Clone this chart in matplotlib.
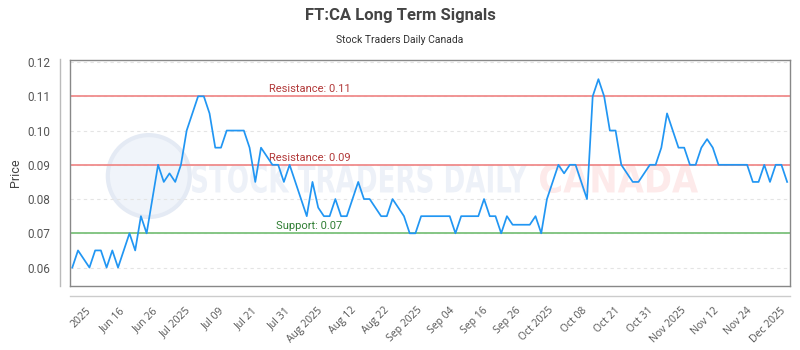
import matplotlib
matplotlib.use("Agg")
import matplotlib.pyplot as plt
from matplotlib.lines import Line2D
from matplotlib.patches import Ellipse, PathPatch
from matplotlib.textpath import TextPath
from matplotlib.font_manager import FontProperties
from matplotlib.transforms import Affine2D

# closing prices, one per trading session
prices = [
    0.06, 0.065, 0.0625, 0.06, 0.065, 0.065, 0.06, 0.065, 0.06, 0.065,
    0.07, 0.065, 0.075, 0.07, 0.08, 0.09, 0.085, 0.0875, 0.085, 0.09,
    0.10, 0.105, 0.11, 0.11, 0.105, 0.095, 0.095, 0.10, 0.10, 0.10,
    0.10, 0.095, 0.085, 0.095, 0.0925, 0.09, 0.09, 0.085, 0.09, 0.085,
    0.08, 0.075, 0.085, 0.0775, 0.075, 0.075, 0.08, 0.075, 0.075, 0.08,
    0.085, 0.08, 0.08, 0.0775, 0.075, 0.075, 0.08, 0.0775, 0.075, 0.07,
    0.07, 0.075, 0.075, 0.075, 0.075, 0.075, 0.075, 0.07, 0.075, 0.075,
    0.075, 0.075, 0.08, 0.075, 0.075, 0.07, 0.075, 0.0725, 0.0725, 0.0725,
    0.0725, 0.075, 0.07, 0.08, 0.085, 0.09, 0.0875, 0.09, 0.09, 0.085,
    0.08, 0.11, 0.115, 0.11, 0.10, 0.10, 0.09, 0.0875, 0.085, 0.085,
    0.0875, 0.09, 0.09, 0.095, 0.105, 0.10, 0.095, 0.095, 0.09, 0.09,
    0.095, 0.0975, 0.095, 0.09, 0.09, 0.09, 0.09, 0.09, 0.09, 0.085,
    0.085, 0.09, 0.085, 0.09, 0.09, 0.085,
]
days = list(range(len(prices)))

tick_labels = ["2025", "Jun 16", "Jun 26", "Jul 2025", "Jul 09", "Jul 21", "Jul 31",
               "Aug 2025", "Aug 12", "Aug 22", "Sep 2025", "Sep 04", "Sep 16", "Sep 26",
               "Oct 2025", "Oct 08", "Oct 21", "Oct 31", "Nov 2025", "Nov 12", "Nov 24",
               "Dec 2025"]
tick_first, tick_step = 2.4, 5.776
tick_pos = [tick_first + k * tick_step for k in range(len(tick_labels))]

resistance = [0.11, 0.09]
support = [0.07]

plt.rcParams['font.family'] = ['Roboto', 'DejaVu Sans']

fig = plt.figure(figsize=(8, 3.5), dpi=100)
ax = fig.add_axes([0.0875, 0.1837, 0.9, 0.6449])
ax.patch.set_alpha(0)


def watermark(text, x0, x1, y0, h, color):
    # squeezed text outline placed in pixel coordinates
    tp = TextPath((0, 0), text, size=40,
                  prop=FontProperties(family="DejaVu Sans", weight="bold"))
    ext = tp.get_extents()
    sx = (x1 - x0) / ext.width
    sy = h / ext.height
    tr = Affine2D().translate(-ext.x0, -ext.y0).scale(sx, sy).translate(x0, 350 - y0 - h)
    fig.patches.append(PathPatch(tp, transform=tr, facecolor=color, edgecolor="none", zorder=-1))


fig.patches.append(Ellipse((0.186, 0.497), 0.1025, 0.234, transform=fig.transFigure,
                           facecolor="#f0f4fa", edgecolor="#e4eaf4", lw=3, zorder=-1))
watermark("STOCK TRADERS DAILY", 192, 527, 164, 29, "#edf1f8")
watermark("CANADA", 540, 698, 164, 29, "#fdeaea")

for r in resistance:
    ax.axhline(r, color="#f08c8c", lw=1.3, zorder=2)
    ax.text(41.5, r + 0.0006, f"Resistance: {r:.2f}", color="#b23a3a", fontsize=8,
            ha="center", va="bottom", zorder=3)
for s in support:
    ax.axhline(s, color="#7cc27c", lw=1.3, zorder=2)
    ax.text(41.5, s + 0.0006, f"Support: {s:.2f}", color="#2e7d32", fontsize=8,
            ha="center", va="bottom", zorder=3)

ax.plot(days, prices, color="#2196f3", lw=1.25, zorder=4)

ax.set_xlim(-0.4, 125.5)
ax.set_ylim(0.0547, 0.1206)
ax.set_yticks([0.06, 0.07, 0.08, 0.09, 0.10, 0.11, 0.12])
ax.set_yticklabels([f"{v:.2f}" for v in ax.get_yticks()])
ax.grid(axis="y", color="#e4e4e4", ls=(0, (3, 3)), lw=0.8)
ax.set_axisbelow(True)

ax.set_xticks(tick_pos)
ax.set_xticklabels(tick_labels, rotation=45, ha="right", rotation_mode="anchor",
                   family=["Open Sans", "DejaVu Sans"], fontsize=7.5, color="#555555")
ax.tick_params(axis="x", length=0, pad=14)
ax.tick_params(axis="y", length=0, pad=14, labelsize=8.5, labelcolor="#555555")
ax.set_ylabel("Price", fontsize=9, color="#444444", labelpad=4)

for sp in ax.spines.values():
    sp.set_color("#888888")
    sp.set_linewidth(1)

# outer axis rules
ax.add_line(Line2D([-0.0139, -0.0139], [0, 1.004], transform=ax.transAxes,
                   color="#bbbbbb", lw=1, clip_on=False))
ax.add_line(Line2D([0, 1], [-0.044, -0.044], transform=ax.transAxes,
                   color="#cccccc", lw=1, clip_on=False))

fig.text(0.5, 0.955, "FT:CA Long Term Signals", ha="center", va="center",
         fontsize=12, fontweight="bold", color="#444444")
fig.text(0.5, 0.885, "Stock Traders Daily Canada", ha="center", va="center",
         fontsize=7.5, color="#333333")

fig.savefig("out.png", dpi=100)
